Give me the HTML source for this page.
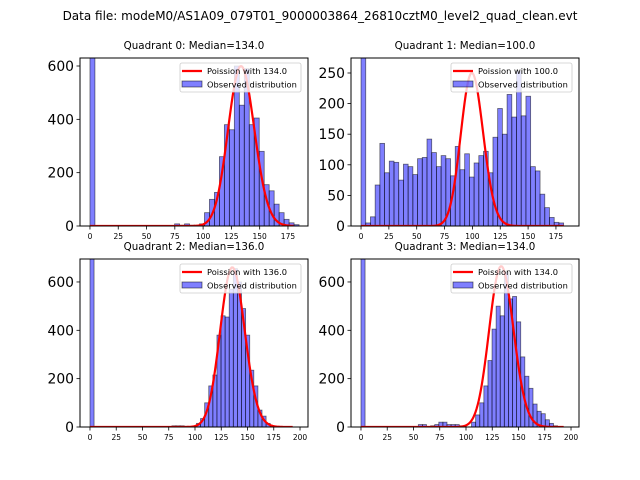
<!DOCTYPE html>
<html><head><meta charset="utf-8"><style>
body{margin:0;background:#fff;}
svg{display:block;font-family:"DejaVu Sans","Liberation Sans",sans-serif;}
</style></head><body>
<svg id="fig" width="640" height="480" viewBox="0 0 640 480">
<rect width="640" height="480" fill="#fff"/>
<text x="320" y="20" text-anchor="middle" font-size="12">Data file: modeM0/AS1A09_079T01_9000003864_26810cztM0_level2_quad_clean.evt</text>
</svg>
<script>
// Quadrant data
const q0Counts = [5000,0,0,0,0,0,0,0,0,0,0,0,0,0,0,0,0,8,3,8,3,3,8,50,100,126,260,380,361,600,453,590,380,405,280,155,132,82,50,25,12,5];
const q1Counts = [2700,5,15,67,135,87,106,104,75,101,97,84,110,112,142,120,97,115,110,82,130,92,118,80,103,115,122,87,145,192,150,215,178,253,180,212,97,90,52,30,14,6,5];
const q2Counts = [5000,0,0,0,0,0,0,0,0,0,0,0,0,0,0,0,0,0,0,0,5,5,5,3,2,0,15,35,100,170,215,380,460,455,570,655,600,490,380,235,170,70,45,15,5];
const q3Counts = [5000,0,0,0,0,0,0,0,0,0,0,0,0,0,10,10,0,5,10,20,20,10,10,10,5,0,0,20,50,100,170,275,405,500,460,640,530,540,435,290,210,160,95,65,55,30,15,5];
const binWidths = [4.4, 4.23, 3.9, 3.9];
const lambdas = [134.0, 100.0, 136.0, 134.0];
const curveScales = [17400, 6270, 19300, 19300];
const curveMax = [180, 182, 193, 193];
const medians = ["134.0","100.0","136.0","134.0"];
const xTicks01 = [0,25,50,75,100,125,150,175];
const xTicks23 = [0,25,50,75,100,125,150,175,200];
const yTicks0 = [0,200,400,600];
const yTicks1 = [0,50,100,150,200,250];
const yTicks2 = [0,200,400,600];
const yTicks3 = [0,200,400,600];

const NS="http://www.w3.org/2000/svg";
const svg=document.getElementById('fig');
function mk(tag,attrs,parent){const e=document.createElementNS(NS,tag);for(const k in attrs)e.setAttribute(k,attrs[k]);(parent||svg).appendChild(e);return e;}
function lgamma(z){const g=7,c=[0.99999999999980993,676.5203681218851,-1259.1392167224028,771.32342877765313,-176.61502916214059,12.507343278686905,-0.13857109526572012,9.9843695780195716e-6,1.5056327351493116e-7];
 if(z<0.5)return Math.log(Math.PI/Math.sin(Math.PI*z))-lgamma(1-z);z-=1;let x=c[0];for(let i=1;i<g+2;i++)x+=c[i]/(z+i);const t=z+g+0.5;return 0.5*Math.log(2*Math.PI)+(z+0.5)*Math.log(t)-t+Math.log(x);}
function pois(k,l){return Math.exp(k*Math.log(l)-l-lgamma(k+1));}

const panels=[
 {counts:q0Counts,L:80,T:58,W:228,H:168,xmin:-8.8,xmax:192.7,ymax:630,xt:xTicks01,yt:yTicks0},
 {counts:q1Counts,L:351,T:58,W:228,H:168,xmin:-9,xmax:195.7,ymax:274.5,xt:xTicks01,yt:yTicks1},
 {counts:q2Counts,L:80,T:259,W:228,H:168,xmin:-9.5,xmax:207.6,ymax:695,xt:xTicks23,yt:yTicks2},
 {counts:q3Counts,L:351,T:259,W:228,H:168,xmin:-9.5,xmax:207.6,ymax:695,xt:xTicks23,yt:yTicks3}];

panels.forEach((p,qi)=>{
 const g=mk('g',{});
 
 
 const xs=v=>p.L+(v-p.xmin)/(p.xmax-p.xmin)*p.W;
 const ys=v=>p.T+p.H-v/p.ymax*p.H;
 const cid='clip'+qi;
 const cp=mk('clipPath',{id:cid},g);mk('rect',{x:p.L,y:p.T,width:p.W,height:p.H},cp);
 const plot=mk('g',{'clip-path':'url(#'+cid+')'},g);
 const bw=binWidths[qi];
 p.counts.forEach((c,i)=>{
  if(c<=0)return;
  const r=mk('rect',{x:xs(i*bw),y:ys(c),width:xs((i+1)*bw)-xs(i*bw),height:ys(0)-ys(c),fill:'rgba(0,0,255,0.5)',stroke:'rgba(0,0,0,0.55)','stroke-width':0.8},plot);
  
  
 });
 let d='';
 for(let k=0;k<=curveMax[qi];k++){d+=(k?'L':'M')+xs(k).toFixed(2)+','+ys(pois(k,lambdas[qi])*curveScales[qi]).toFixed(2);}
 const ln=mk('path',{d:d,fill:'none',stroke:'#ff0000','stroke-width':2.2},plot);
 
 
 const fr=mk('rect',{x:p.L,y:p.T,width:p.W,height:p.H,fill:'none',stroke:'#000','stroke-width':1},g);
 
 
 p.xt.forEach(v=>{const x=xs(v);mk('line',{x1:x,x2:x,y1:p.T+p.H,y2:p.T+p.H+3.5,stroke:'#000','stroke-width':0.8},g);
  const t=mk('text',{x:x,y:p.T+p.H+13,'text-anchor':'middle','font-size':7.5},g);t.textContent=v;
  
  });
 p.yt.forEach(v=>{const y=ys(v);mk('line',{x1:p.L-3.5,x2:p.L,y1:y,y2:y,stroke:'#000','stroke-width':0.8},g);
  const t=mk('text',{x:p.L-6,y:y+5,'text-anchor':'end','font-size':13.9},g);t.textContent=v;
  
  });
 const tt=mk('text',{x:p.L+p.W/2,y:p.T-9,'text-anchor':'middle','font-size':10.3},g);
 tt.textContent='Quadrant '+qi+': Median='+medians[qi];
 
 
 const lg=mk('g',{},g);
 
 
 const lx=p.L+p.W-128,ly=p.T+5;
 mk('rect',{x:lx,y:ly,width:121,height:29,fill:'#fff','fill-opacity':0.8,stroke:'#ccc','stroke-width':0.8,rx:2},lg);
 mk('line',{x1:lx+2,x2:lx+22,y1:ly+8,y2:ly+8,stroke:'#f00','stroke-width':2.2},lg);
 const t1=mk('text',{x:lx+27,y:ly+11,'font-size':8.3},lg);t1.textContent='Poission with '+lambdas[qi].toFixed(1);
 
 
 mk('rect',{x:lx+2,y:ly+18,width:20,height:6,fill:'rgba(0,0,255,0.5)',stroke:'rgba(0,0,0,0.6)','stroke-width':0.8},lg);
 const t2=mk('text',{x:lx+27,y:ly+24.5,'font-size':8.3},lg);t2.textContent='Observed distribution';
 
 
});
</script>
</body></html>
